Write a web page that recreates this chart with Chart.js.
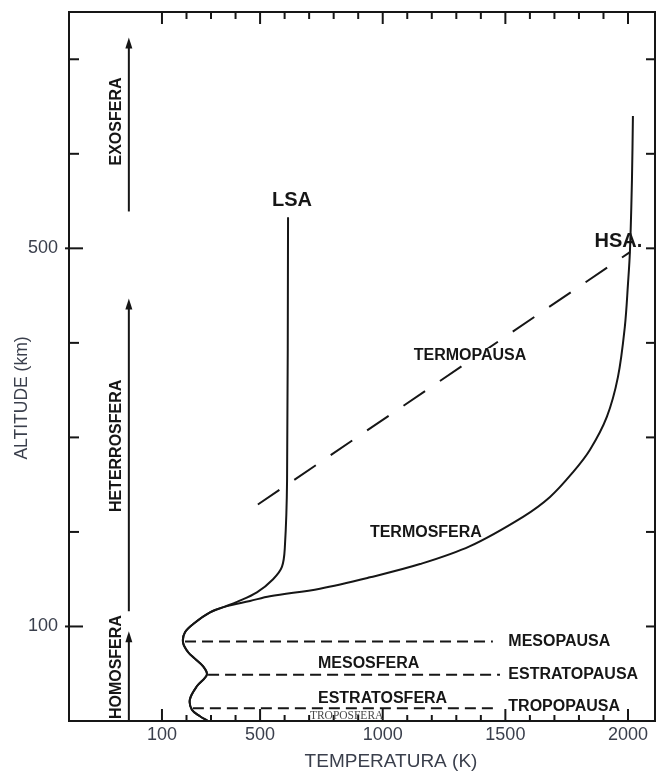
<!DOCTYPE html>
<html>
<head>
<meta charset="utf-8">
<script src="https://cdn.jsdelivr.net/npm/chart.js@4.4.1/dist/chart.umd.min.js"></script>
<style>
  html, body { margin: 0; padding: 0; background: #fff; }
  canvas { display: block; }
</style>
</head>
<body>
<canvas id="atmChart" width="657" height="774"></canvas>
<script>
// valores: temperatura (K) e altitude (km)
const baseTemp = [288, 255, 222, 214, 243, 283, 267, 234, 206, 186, 194, 234, 296, 357];
const baseAlt  = [0,   5,   12,  23,  37,  49,  58,  66,  73,  83,  94,  104, 115, 121];

const lsaTemp = [406, 487, 553, 589, 601, 610, 614];
const lsaAlt  = [126, 136, 150, 163, 184, 255, 533];

const hsaTemp = [459, 540, 744, 948, 1152, 1356, 1572, 1682, 1775, 1845, 1914, 1959, 1987, 2000, 2008, 2016, 2020];
const hsaAlt  = [127, 132, 140, 152, 166, 185, 216, 237, 263, 287, 322, 364, 417, 463, 498, 572, 640];

const termopausaTemp = [491, 2008];
const termopausaAlt  = [229, 496];

const pauseNames = ['MESOPAUSA', 'ESTRATOPAUSA', 'TROPOPAUSA'];
const pauseAlt   = [84, 49, 13.5];
const pauseStart = [194, 288, 226];
const pauseEnd   = [1449, 1478, 1457];

const xTicks  = [100, 200, 300, 400, 500, 600, 700, 800, 900, 1000, 1100, 1200, 1300, 1400, 1500, 1600, 1700, 1800, 1900, 2000];
const xLabels = [100, 500, 1000, 1500, 2000];
const yTicks  = [100, 200, 300, 400, 500, 600, 700];
const yLabels = [100, 500];

// camadas (setas à esquerda): altitude inicial / final
const layerNames = ['HOMOSFERA', 'HETERROSFERA', 'EXOSFERA'];
const layerFrom  = [0, 116, 539];
const layerTo    = [95, 447, 723];

const FONT = '"Liberation Sans", Arial, Helvetica, sans-serif';
const INK = '#161616';
const AXIS_TEXT = '#3a3f4c';

function pts(t, a) {
    return t.map((v, i) => ({ x: v, y: a[i] }));
}

var datasets = [
    { data: pts(baseTemp.concat(lsaTemp), baseAlt.concat(lsaAlt)), tension: 0.35 },
    { data: pts(baseTemp.concat(hsaTemp), baseAlt.concat(hsaAlt)), tension: 0.35 },
    { data: pts(termopausaTemp, termopausaAlt), borderDash: [26, 18], tension: 0 }
];
pauseNames.forEach(function (n, i) {
    datasets.push({
        data: [{ x: pauseStart[i], y: pauseAlt[i] }, { x: pauseEnd[i], y: pauseAlt[i] }],
        borderDash: [11, 6],
        tension: 0
    });
});
datasets.forEach(function (d) {
    d.showLine = true;
    d.borderColor = INK;
    d.borderWidth = 2;
    d.pointRadius = 0;
    d.fill = false;
});

// textos dentro do gráfico, em coordenadas de dados
var notes = [
    { text: 'LSA', x: 630, y: 551, size: 20, align: 'center' },
    { text: 'HSA.', x: 1961, y: 507, size: 20, align: 'center' },
    { text: 'TERMOPAUSA', x: 1356, y: 387, size: 16, align: 'center', knockout: true },
    { text: 'TERMOSFERA', x: 1176, y: 199, size: 16, align: 'center' },
    { text: 'MESOSFERA', x: 736, y: 61, size: 16, align: 'left' },
    { text: 'ESTRATOSFERA', x: 736, y: 24, size: 16, align: 'left' }
];

const decor = {
    id: 'decor',
    afterDatasetsDraw(chart) {
        const ctx = chart.ctx;
        const a = chart.chartArea;
        const x = chart.scales.x, y = chart.scales.y;
        ctx.save();
        ctx.strokeStyle = INK;
        ctx.fillStyle = INK;
        ctx.lineWidth = 2;
        ctx.setLineDash([]);

        function seg(x1, y1, x2, y2) {
            ctx.beginPath();
            ctx.moveTo(x1, y1);
            ctx.lineTo(x2, y2);
            ctx.stroke();
        }

        // moldura
        ctx.strokeRect(a.left, a.top, a.right - a.left, a.bottom - a.top);

        // marcas para dentro
        x.ticks.forEach(function (t) {
            const px = x.getPixelForValue(t.value);
            const major = xLabels.includes(t.value);
            seg(px, a.bottom, px, a.bottom - (major ? 12 : 6));
            seg(px, a.top, px, a.top + (major ? 12 : 7));
        });
        y.ticks.forEach(function (t) {
            const py = y.getPixelForValue(t.value);
            const major = yLabels.includes(t.value);
            seg(a.left - (major ? 4 : 0), py, a.left + (major ? 14 : 10), py);
            seg(a.right, py, a.right - 9, py);
        });

        // setas das camadas
        const ax = x.getPixelForValue(-35);
        const shift = [-9, -9, -3];
        layerNames.forEach(function (name, i) {
            const y0 = y.getPixelForValue(layerFrom[i]);
            const y1 = y.getPixelForValue(layerTo[i]);
            seg(ax, y0, ax, y1 + 6);
            ctx.beginPath();
            ctx.moveTo(ax, y1);
            ctx.lineTo(ax - 3.5, y1 + 11);
            ctx.lineTo(ax + 3.5, y1 + 11);
            ctx.closePath();
            ctx.fill();

            ctx.save();
            ctx.translate(ax - 12, (y0 + y1) / 2 + shift[i]);
            ctx.rotate(-Math.PI / 2);
            ctx.font = 'bold 16px ' + FONT;
            ctx.textAlign = 'center';
            ctx.textBaseline = 'middle';
            ctx.fillText(name, 0, 0);
            ctx.restore();
        });

        // nomes das pausas, à direita das linhas tracejadas
        ctx.font = 'bold 16px ' + FONT;
        ctx.textAlign = 'left';
        ctx.textBaseline = 'middle';
        pauseNames.forEach(function (n, i) {
            ctx.fillText(n, x.getPixelForValue(1512), y.getPixelForValue(pauseAlt[i]) + (i === 2 ? -2 : 0));
        });

        notes.forEach(function (n) {
            ctx.font = 'bold ' + n.size + 'px ' + FONT;
            ctx.textAlign = n.align;
            const px = x.getPixelForValue(n.x), py = y.getPixelForValue(n.y);
            if (n.knockout) {
                const w = ctx.measureText(n.text).width;
                ctx.fillStyle = '#fff';
                ctx.fillRect(px - w / 2 - 1, py - 7, w + 2, 14);
                ctx.fillStyle = INK;
            }
            ctx.fillText(n.text, px, py);
        });

        ctx.font = '11.5px "Liberation Serif", "Times New Roman", serif';
        ctx.fillStyle = '#4a4a4a';
        ctx.textAlign = 'left';
        ctx.fillText('TROPOSFERA', x.getPixelForValue(703), y.getPixelForValue(5));

        // títulos dos eixos
        ctx.fillStyle = AXIS_TEXT;
        ctx.textAlign = 'center';
        ctx.font = '19px ' + FONT;
        ctx.fillText('TEMPERATURA (K)', 391, 762);
        ctx.save();
        ctx.translate(22, 398);
        ctx.rotate(-Math.PI / 2);
        ctx.font = '17.5px ' + FONT;
        ctx.fillText('ALTITUDE (km)', 0, 0);
        ctx.restore();

        ctx.restore();
    }
};

function noPad(s) {
    s.paddingTop = 0;
    s.paddingBottom = 0;
    s.paddingLeft = 0;
    s.paddingRight = 0;
}

new Chart(document.getElementById('atmChart'), {
    type: 'scatter',
    data: { datasets: datasets },
    options: {
        responsive: false,
        animation: false,
        events: [],
        layout: { padding: { top: 12, right: 2, left: 0, bottom: 0 } },
        plugins: { legend: { display: false }, tooltip: { enabled: false } },
        scales: {
            x: {
                type: 'linear',
                min: -279,
                max: 2110,
                afterBuildTicks: function (s) { s.ticks = xTicks.map(v => ({ value: v })); },
                afterFit: function (s) { s.height = 53; noPad(s); },
                grid: { display: false, drawTicks: false },
                border: { display: false },
                ticks: {
                    autoSkip: false,
                    maxRotation: 0,
                    padding: 3,
                    color: AXIS_TEXT,
                    font: { size: 18, family: FONT },
                    callback: v => xLabels.includes(v) ? String(v) : ''
                }
            },
            y: {
                type: 'linear',
                min: 0,
                max: 750,
                afterBuildTicks: function (s) { s.ticks = yTicks.map(v => ({ value: v })); },
                afterFit: function (s) { s.width = 69; noPad(s); },
                grid: { display: false, drawTicks: false },
                border: { display: false },
                ticks: {
                    autoSkip: false,
                    padding: 11,
                    color: AXIS_TEXT,
                    font: { size: 18, family: FONT },
                    callback: v => yLabels.includes(v) ? String(v) : ''
                }
            }
        }
    },
    plugins: [decor]
});
</script>
</body>
</html>
